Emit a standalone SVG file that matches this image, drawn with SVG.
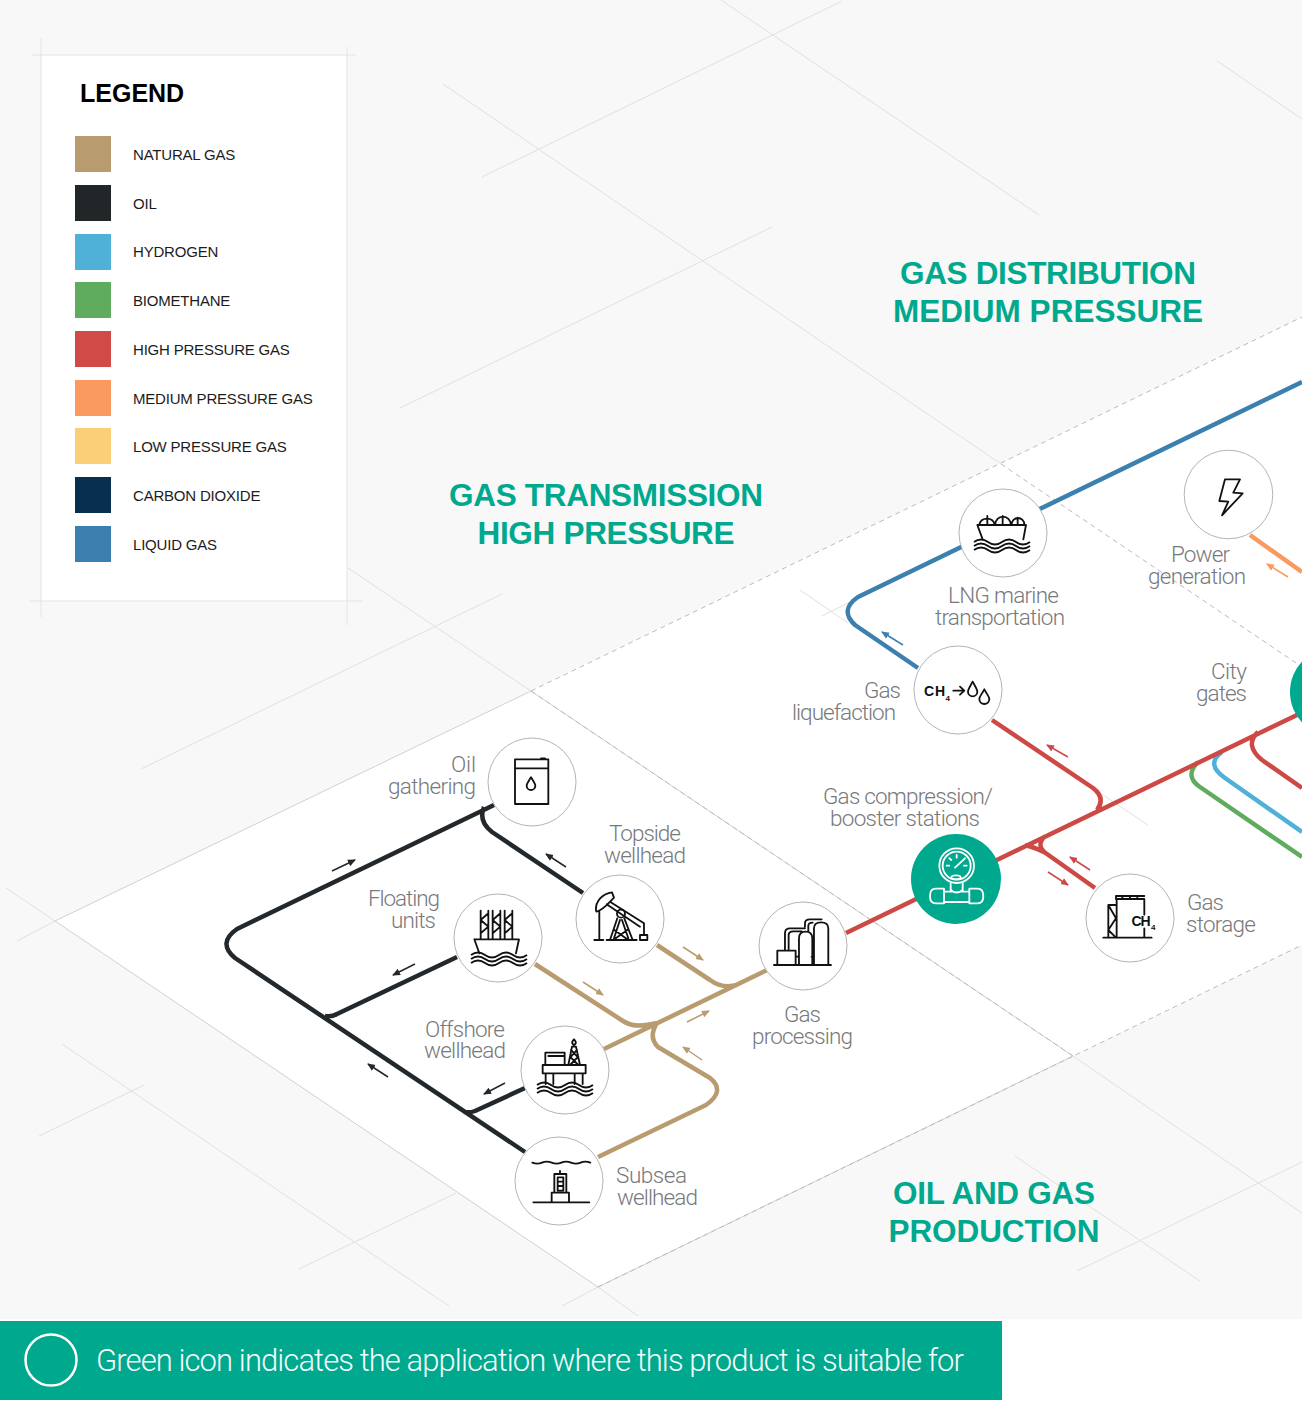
<svg xmlns="http://www.w3.org/2000/svg" width="1302" height="1401" viewBox="0 0 1302 1401">
<defs>
<style>
text{font-family:"Liberation Sans",Arial,sans-serif}
.lbl{font-family:Roboto,"Liberation Sans",sans-serif;font-weight:300;font-size:22.500px;fill:#77797b}
.hd{font-size:31.5px;font-weight:700;fill:#00a88e;text-anchor:middle}
.lg{font-size:15px;fill:#1c1c1c;letter-spacing:-.2px}
.bg{stroke:#e0e0e0;stroke-width:1;fill:none}
.edge{stroke:#d0d0d0;stroke-width:1;fill:none}
.dash{stroke:#bbb;stroke-width:1;stroke-dasharray:5 4;fill:none}
.p{fill:none;stroke-width:4.500;stroke-linejoin:round}
.oil{stroke:#22282b}.ng{stroke:#b89c6f}.hp{stroke:#cd4946}.lq{stroke:#3b80ae}.mp{stroke:#f99a5e}.h2{stroke:#4fb0d8}.bm{stroke:#5fac5f}
.a{fill:none;stroke-width:1.5}
.c{fill:#fff;stroke:#b4b4b4;stroke-width:1}
.t{fill:#00a88e}
.i{fill:none;stroke:#111;stroke-width:5.500;stroke-linejoin:round;stroke-linecap:round}
.w{fill:none;stroke:#fff;stroke-width:5.500;stroke-linejoin:round;stroke-linecap:round}
.ic{font-size:14px;font-weight:700;fill:#111}
.sub{font-size:8px;font-weight:700;fill:#111}
</style>
<marker id="mo" markerWidth="9" markerHeight="8" refX="7" refY="4" orient="auto" markerUnits="userSpaceOnUse"><path d="M0 .5L8 4L0 7.5z" fill="#22282b"/></marker>
<marker id="mn" markerWidth="9" markerHeight="8" refX="7" refY="4" orient="auto" markerUnits="userSpaceOnUse"><path d="M0 .5L8 4L0 7.5z" fill="#b89c6f"/></marker>
<marker id="mh" markerWidth="9" markerHeight="8" refX="7" refY="4" orient="auto" markerUnits="userSpaceOnUse"><path d="M0 .5L8 4L0 7.5z" fill="#cd4946"/></marker>
<marker id="ml" markerWidth="9" markerHeight="8" refX="7" refY="4" orient="auto" markerUnits="userSpaceOnUse"><path d="M0 .5L8 4L0 7.5z" fill="#3b80ae"/></marker>
<marker id="mm" markerWidth="9" markerHeight="8" refX="7" refY="4" orient="auto" markerUnits="userSpaceOnUse"><path d="M0 .5L8 4L0 7.5z" fill="#f99a5e"/></marker>
<path id="wave" d="M0 0q7-5 14 0t14 0t14 0t14 0"/>
</defs>
<rect width="1302" height="1401" fill="#f8f8f8"/>
<rect y="1319" width="1302" height="82" fill="#fff"/>
<g id="background-lines">
<path class="bg" d="M721 0L1039 215M443 84L1001 464M482 177L842 1M400 408L772 227M348 568L531 691M141 769L502 594M1217 61L1302 119M6 888L55 921M17 941L55 921M62 1044L449 1306M39 1136L144 1085M299 1269L456 1193M562 1306L598 1287L638 1316M1073 1056L1302 1213M1077 1271L1302 1162M1015 1156L1200 1281"/>
</g>
<g id="plates">
<path d="M55 921L1302 317V945L598 1287z" fill="#fff"/>
<path class="edge" d="M55 921L531 691M55 921L598 1287M598 1287L1073 1056M531 691L1073 1056"/>
<path class="dash" d="M531 691L1302 317M531 691L1073 1056M1001 464L1302 667M598 1287L1302 945"/>
<path class="bg" d="M800 590L848 623M822 616L848 603M1100 793L1148 825"/>
</g>
<g id="legend">
<rect x="41" y="55" width="306" height="546" fill="#fff"/>
<path d="M41 38V617M347 47V625M32 55H356M29 601H363" stroke="#e4e4e4" stroke-width="1" fill="none"/>
<text x="80" y="102" font-size="25" font-weight="700" fill="#000">LEGEND</text>
<rect x="75" y="136" width="36" height="36" fill="#b89c6f"/><text class="lg" x="133" y="160">NATURAL GAS</text>
<rect x="75" y="185" width="36" height="36" fill="#212629"/><text class="lg" x="133" y="209">OIL</text>
<rect x="75" y="234" width="36" height="36" fill="#4fb0d8"/><text class="lg" x="133" y="257">HYDROGEN</text>
<rect x="75" y="282" width="36" height="36" fill="#5fac5f"/><text class="lg" x="133" y="306">BIOMETHANE</text>
<rect x="75" y="331" width="36" height="36" fill="#d04a47"/><text class="lg" x="133" y="355">HIGH PRESSURE GAS</text>
<rect x="75" y="380" width="36" height="36" fill="#fb9a60"/><text class="lg" x="133" y="404">MEDIUM PRESSURE GAS</text>
<rect x="75" y="428" width="36" height="36" fill="#fbcf77"/><text class="lg" x="133" y="452">LOW PRESSURE GAS</text>
<rect x="75" y="477" width="36" height="36" fill="#06304d"/><text class="lg" x="133" y="501">CARBON DIOXIDE</text>
<rect x="75" y="526" width="36" height="36" fill="#3b80ae"/><text class="lg" x="133" y="550">LIQUID GAS</text>
</g>
<g id="headings">
<text class="hd" x="1048" y="284" textLength="296">GAS DISTRIBUTION</text><text class="hd" x="1048" y="322" textLength="310">MEDIUM PRESSURE</text>
<text class="hd" x="606" y="506" textLength="314">GAS TRANSMISSION</text><text class="hd" x="606" y="544" textLength="257">HIGH PRESSURE</text>
<text class="hd" x="994" y="1204" textLength="202">OIL AND GAS</text><text class="hd" x="994" y="1242" textLength="211">PRODUCTION</text>
</g>
<g id="connectors">
<path class="p oil" d="M494 805L237 929Q217 943 235 958L525 1152M583 893L492 832Q478 821 484 807M457 957L337 1014Q332 1017 325 1016M525 1088L475 1111Q470 1113 464 1112"/>
<path class="p ng" d="M767 970L604 1049M657 945L710 980Q722 989 737 985M535 964L623 1021Q635 1029 657 1023M598 1157L706 1105Q726 1091 710 1078L658 1047Q648 1037 657 1023"/>
<path class="p lq" d="M1302 382L858 597Q839 610 855 625L918 668"/>
<path class="p bm" d="M1302 857L1200 787Q1184 776 1198 762"/>
<path class="p h2" d="M1302 832L1225 778Q1205 764 1222 752"/>
<path class="p hp" d="M846 933L1297 715M992 720L1093 788Q1106 798 1097 810M1095 888L1047 854Q1035 846 1045 836M1047 854Q1040 849 1025 845M1258 732Q1244 745 1262 760L1302 788"/>
<path class="p mp" d="M1250 535L1302 572"/>
<g class="a">
<path stroke="#22282b" marker-end="url(#mo)" d="M332 871L355 860"/><path stroke="#22282b" marker-end="url(#mo)" d="M415 964L393 975"/><path stroke="#22282b" marker-end="url(#mo)" d="M388 1077L368 1064"/><path stroke="#22282b" marker-end="url(#mo)" d="M505 1083L484 1094"/><path stroke="#22282b" marker-end="url(#mo)" d="M566 867L546 854"/>
<path stroke="#b89c6f" marker-end="url(#mn)" d="M683 947L703 960"/><path stroke="#b89c6f" marker-end="url(#mn)" d="M583 982L603 995"/><path stroke="#b89c6f" marker-end="url(#mn)" d="M687 1022L709 1011"/><path stroke="#b89c6f" marker-end="url(#mn)" d="M702 1060L683 1047"/>
<path stroke="#3b80ae" marker-end="url(#ml)" d="M903 645L882 632"/>
<path stroke="#cd4946" marker-end="url(#mh)" d="M1068 757L1047 745"/><path stroke="#cd4946" marker-end="url(#mh)" d="M1090 870L1070 857"/><path stroke="#cd4946" marker-end="url(#mh)" d="M1048 872L1068 885"/>
<path stroke="#f99a5e" marker-end="url(#mm)" d="M1288 577L1267 564"/>
</g>
</g>
<g id="oil-gathering"><circle class="c" cx="532" cy="782" r="44"/>
<g transform="translate(440 720) scale(.3333)" class="i"><path d="M225 118H325V252H225zM225 145H325M225 252H325M303 115H315"/><path d="M273 172C265 185 260 192 260 197A13 13 0 0 0 286 197C286 192 281 185 273 172z"/></g>
<text class="lbl" x="451" y="772" textLength="25">Oil</text><text class="lbl" x="388" y="794" textLength="88">gathering</text></g>
<g id="topside-wellhead"><circle class="c" cx="620" cy="919" r="44"/>
<g transform="translate(440 720) scale(.3333)" class="i"><path d="M468 572C465 542 490 520 516 517L522 533C505 550 490 570 470 575zM510 545L612 610M500 553L600 620M478 575V660M463 660H490M500 660H590M532 595L510 660M553 595L578 660M540 600L522 655M546 600L565 655M523 630L565 660M562 630L520 660M612 610V645M600 645H622V660H600z"/><circle cx="543" cy="581" r="12"/></g>
<text class="lbl" x="609" y="841" textLength="72">Topside</text><text class="lbl" x="604" y="863" textLength="82">wellhead</text></g>
<g id="floating-units"><circle class="c" cx="498" cy="938" r="44"/>
<g transform="translate(440 720) scale(.3333)" class="i"><path d="M122 572V655M145 572V655M122 600L145 620L122 640M145 580L122 600M158 572V655M181 572V655M158 600L181 620L158 640M181 580L158 600M194 572V655M217 572V655M194 600L217 620L194 640M217 580L194 600M103 658H237L228 700M103 658L118 700"/></g>
<g fill="none" stroke="#111" stroke-width="2"><use href="#wave" x="471" y="955"/><use href="#wave" x="471" y="959"/><use href="#wave" x="471" y="963"/></g>
<text class="lbl" x="368" y="906" textLength="72">Floating</text><text class="lbl" x="391" y="928" textLength="45">units</text></g>
<g id="offshore-wellhead"><circle class="c" cx="565" cy="1070" r="44"/>
<g transform="translate(500 890) scale(.3333)" class="i"><path d="M128 525H257V550H128zM136 525V488H194V525M145 498H190M137 550V582M160 550V582M224 550V582M248 550V582M205 525L216 470H228L240 525M210 500L235 525M235 500L210 525M213 480L232 500M231 480L213 500M222 465C212 460 218 452 222 448C226 452 232 460 222 465z"/></g>
<g fill="none" stroke="#111" stroke-width="2"><use href="#wave" x="537" y="1085"/><use href="#wave" x="537" y="1089"/><use href="#wave" x="537" y="1093"/></g>
<text class="lbl" x="425" y="1037" textLength="80">Offshore</text><text class="lbl" x="424" y="1058" textLength="82">wellhead</text></g>
<g id="subsea-wellhead"><circle class="c" cx="559" cy="1181" r="44"/>
<g transform="translate(500 890) scale(.3333)" class="i"><path d="M100 937H268M155 937V908H207V937M163 908V852H199V908M173 862H190V902H173zM173 875H190M173 888H190M180 852V843"/><path d="M97 818q15 6 29 0t29 0t29 0t29 0t29 0t29 0"/></g>
<text class="lbl" x="616" y="1183" textLength="71">Subsea</text><text class="lbl" x="617" y="1205" textLength="81">wellhead</text></g>
<g id="gas-processing"><circle class="c" cx="803" cy="946" r="44"/>
<g transform="translate(500 890) scale(.3333)" class="i"><path d="M822 225H993M832 225V182H887V225M888 200H897M935 200H942M897 225V145Q897 125 917 125Q937 125 937 145V225zM942 225V115Q942 97 963 97Q985 97 985 115V225zM855 182V130Q855 115 870 115H915M866 182V135Q866 124 880 124H905M915 110V100Q915 88 930 88H965M925 125V108Q925 98 938 98"/></g>
<text class="lbl" x="784" y="1022" textLength="37">Gas</text><text class="lbl" x="752" y="1044" textLength="101">processing</text></g>
<g id="gas-compression"><circle class="t" cx="956" cy="879" r="45"/>
<g transform="translate(900 700) scale(.3333)" class="w"><circle cx="170" cy="497" r="52"/><circle cx="170" cy="497" r="42"/><path d="M165 503L195 475M170 465V473M140 497H148M200 497H192M148 475L154 480"/><ellipse cx="168" cy="532" rx="14" ry="6"/><path d="M152 548V570Q170 585 188 570V548M132 575H155M185 575H208M132 606H208M132 575V606M208 575V606M107 566H132V610H107Q90 610 90 588Q90 566 107 566zM208 566H233Q250 566 250 588Q250 610 233 610H208z"/></g>
<text class="lbl" x="823" y="804" textLength="170">Gas compression/</text><text class="lbl" x="830" y="826" textLength="150">booster stations</text></g>
<g id="gas-storage"><circle class="c" cx="1130" cy="918" r="44"/>
<g transform="translate(900 700) scale(.3333)" class="i"><path d="M610 713H755M650 713V597H733V644M733 685V713M648 588H733M648 597V588M667 588V597M690 588V597M712 588V597M625 713V615H650M625 615L648 655L625 690L648 713"/></g>
<text class="ic" x="1131.500" y="926" textLength="19">CH</text><text class="sub" x="1151" y="930">4</text>
<text class="lbl" x="1187" y="910" textLength="37">Gas</text><text class="lbl" x="1186" y="932" textLength="70">storage</text></g>
<g id="gas-liquefaction"><circle class="c" cx="958" cy="690" r="44"/>
<text class="ic" x="924" y="696" textLength="21">CH</text><text class="sub" x="945.500" y="701">4</text>
<g transform="translate(900 480) scale(.3333)" class="i"><path d="M160 632H192M180 620L193 632L180 644"/><path d="M218 605C210 620 204 628 204 635A14 14 0 0 0 232 635C232 628 226 620 218 605zM253 628C245 643 238 650 238 657A15 15 0 0 0 268 657C268 650 261 643 253 628z"/></g>
<text class="lbl" x="864" y="698" textLength="37">Gas</text><text class="lbl" x="792" y="720" textLength="104">liquefaction</text></g>
<g id="lng-marine"><circle class="c" cx="1003" cy="533" r="44"/>
<g transform="translate(900 480) scale(.3333)" class="i"><path d="M232 135H378L370 178M232 135L248 178M238 133A24 24 0 0 1 284 133M286 133A23 23 0 0 1 332 133M335 133A19 19 0 0 1 373 133M262 108V133M308 108V133M353 113V133"/></g>
<g fill="none" stroke="#111" stroke-width="2"><use href="#wave" x="974" y="542"/><use href="#wave" x="974" y="546"/><use href="#wave" x="974" y="550"/></g>
<text class="lbl" x="948" y="603" textLength="111">LNG marine</text><text class="lbl" x="935" y="625" textLength="130">transportation</text></g>
<g id="power-generation"><circle class="c" cx="1228.500" cy="494.500" r="44.300"/>
<path d="M1225 479.300H1240L1233.300 492.700L1242.700 493.300L1222 515.300L1228.300 501.700L1219.300 501z" fill="none" stroke="#111" stroke-width="1.800" stroke-linejoin="round"/>
<text class="lbl" x="1171" y="562" textLength="59">Power</text><text class="lbl" x="1148" y="584" textLength="98">generation</text></g>
<g id="city-gates"><circle class="t" cx="1335" cy="692" r="45"/>
<text class="lbl" x="1211" y="679" textLength="36">City</text><text class="lbl" x="1196" y="701" textLength="51">gates</text></g>
<g id="banner"><rect y="1321" width="1002" height="79" fill="#00a88e"/>
<circle cx="51" cy="1360" r="25.500" fill="none" stroke="#fff" stroke-width="2.500"/>
<text x="96" y="1371" font-size="31" fill="#f2fbf9" style="font-family:Roboto,'Liberation Sans',sans-serif;font-weight:300" textLength="868">Green icon indicates the application where this product is suitable for</text></g>
</svg>
